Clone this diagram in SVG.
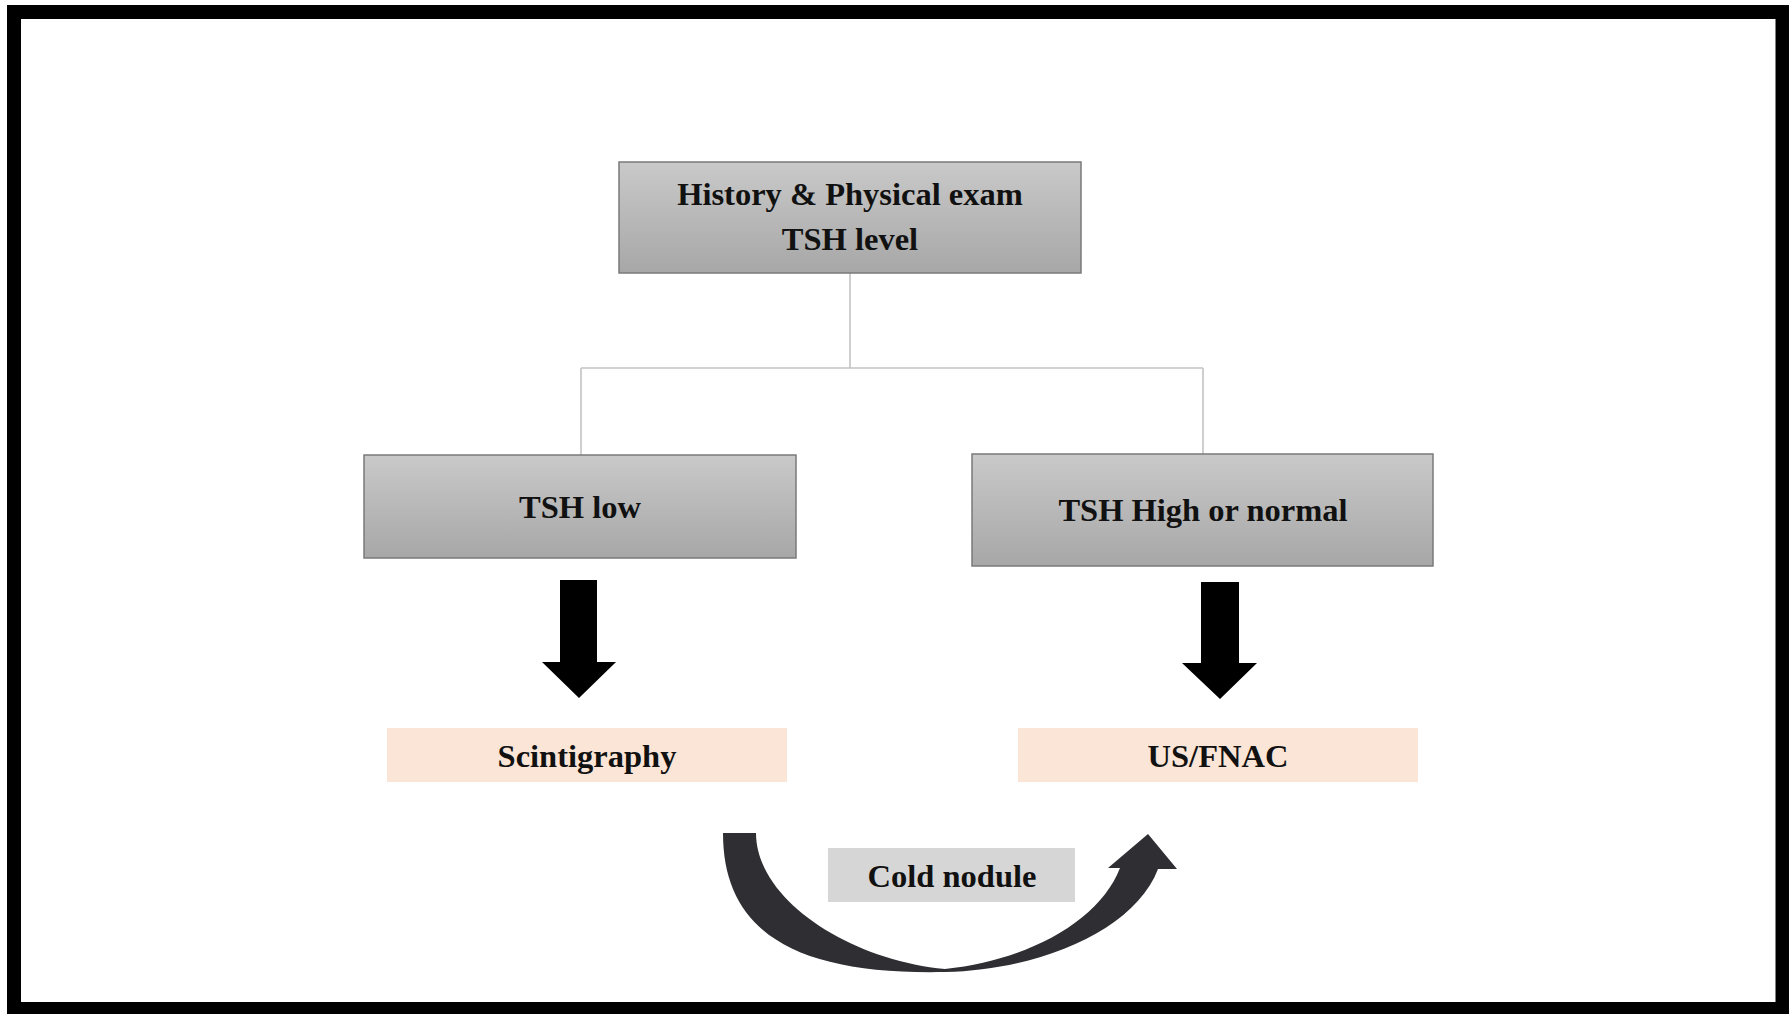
<svg xmlns="http://www.w3.org/2000/svg" width="1789" height="1014" viewBox="0 0 1789 1014">
<defs>
<linearGradient id="gbox" x1="0" y1="0" x2="0" y2="1">
<stop offset="0" stop-color="#c9c9c9"/>
<stop offset="1" stop-color="#a7a7a7"/>
</linearGradient>
<style>
.box{fill:url(#gbox);stroke:#7a7a7a;stroke-width:1.5}
.peach{fill:#fbe5d6}
.lbl{font-family:"Liberation Serif","Times New Roman",serif;font-weight:bold;font-size:32.5px;fill:#111;text-anchor:middle}
.conn{fill:none;stroke:#c3c3c3;stroke-width:1.6}
.bigarrow{fill:#000}
</style>
</defs>
<rect x="0" y="0" width="1789" height="1014" fill="#fff"/>
<rect x="14" y="12" width="1768.5" height="997" fill="#fff" stroke="#000" stroke-width="14"/>
<g id="connectors">
<path class="conn" d="M850 273 V368 M581 368 H1203 M581 368 V455 M1203 368 V455"/>
<polygon class="bigarrow" points="560,580 597,580 597,662 616,662 579,698 542,662 560,662"/>
<polygon class="bigarrow" points="1201,582 1239,582 1239,663 1257,663 1220,699 1182,663 1201,663"/>
<path id="curved-arrow" fill="#2e2e33" d="M723 833 L756 833 C756 900 850 960 945 969 C1030 960 1100 920 1120 868 L1108 868 L1148 834 L1177 869 L1158 869 C1135 930 1040 970 945 972 C800 975 723 935 723 833 Z"/>
</g>
<g id="node-history">
<rect class="box" x="619" y="162" width="462" height="111"/>
<text class="lbl" x="850" y="205">History &amp; Physical exam</text>
<text class="lbl" x="850" y="250">TSH level</text>
</g>
<g id="node-tsh-low">
<rect class="box" x="364" y="455" width="432" height="103"/>
<text class="lbl" x="580" y="518">TSH low</text>
</g>
<g id="node-tsh-high">
<rect class="box" x="972" y="454" width="461" height="112"/>
<text class="lbl" x="1203" y="521">TSH High or normal</text>
</g>
<g id="node-scintigraphy">
<rect class="peach" x="387" y="728" width="400" height="54"/>
<text class="lbl" x="587" y="767">Scintigraphy</text>
</g>
<g id="node-usfnac">
<rect class="peach" x="1018" y="728" width="400" height="54"/>
<text class="lbl" x="1218" y="767">US/FNAC</text>
</g>
<g id="node-cold">
<rect x="828" y="848" width="247" height="54" fill="#d6d6d6"/>
<text class="lbl" x="952" y="887">Cold nodule</text>
</g>
</svg>
